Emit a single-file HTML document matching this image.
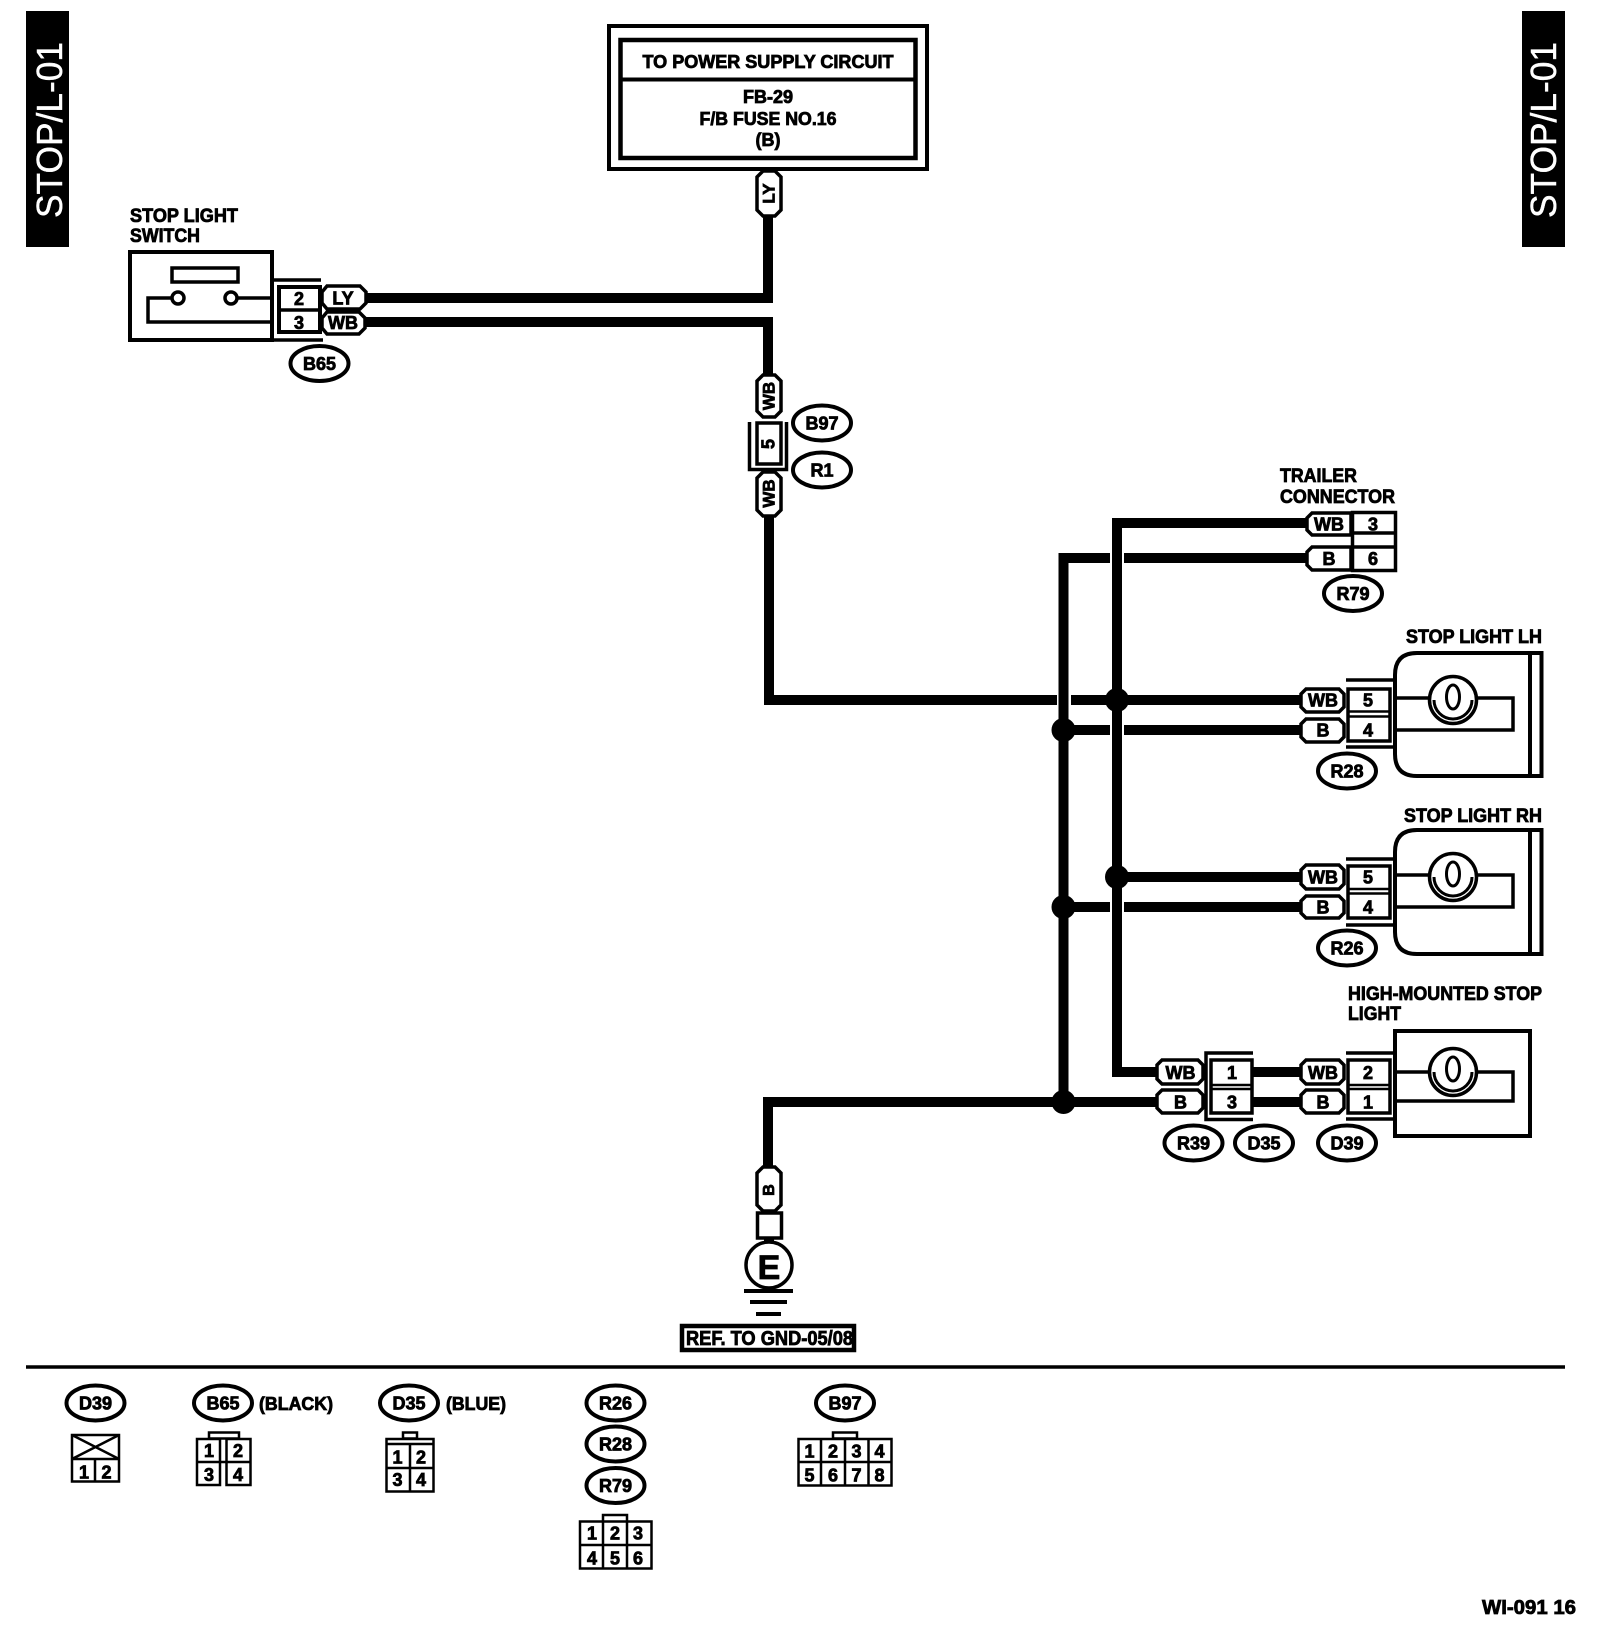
<!DOCTYPE html>
<html><head><meta charset="utf-8"><title>STOP/L-01</title>
<style>
html,body{margin:0;padding:0;background:#fff}
svg{display:block}
text{font-family:"Liberation Sans",Arial,sans-serif;font-weight:bold;font-size:18px;fill:#000;stroke:#000;stroke-width:.8;text-anchor:middle}
.l{text-anchor:start;font-size:19.5px}
.n{font-size:18px}
.bar{font-weight:normal;font-size:36px;fill:#fff;stroke:#fff;stroke-width:.4;text-anchor:start}
.s{fill:none;stroke:#000;stroke-width:3.5}
.w{fill:none;stroke:#000;stroke-width:10}
.t{fill:#fff;stroke:#000;stroke-width:3.5}
.e{fill:#fff;stroke:#000;stroke-width:4}
.c{fill:#fff;stroke:#000;stroke-width:2.5}
.c2{fill:none;stroke:#000;stroke-width:2.5}
</style></head><body>
<svg width="1600" height="1644" viewBox="0 0 1600 1644" xmlns="http://www.w3.org/2000/svg">
<rect width="1600" height="1644" fill="#fff"/>

<!-- side bars -->
<rect x="26" y="11" width="43" height="236" fill="#000"/>
<text class="bar" transform="translate(62,218) rotate(-90)" textLength="176" lengthAdjust="spacingAndGlyphs">STOP/L-01</text>
<rect x="1522" y="11" width="43" height="236" fill="#000"/>
<text class="bar" transform="translate(1556,218) rotate(-90)" textLength="176" lengthAdjust="spacingAndGlyphs">STOP/L-01</text>

<!-- wires -->
<g class="w">
<path class="w" d="M768 216V298H366"/>
<path class="w" d="M366 322H768V374"/>
<path class="w" d="M769 515V700H1057"/>
<path class="w" d="M1071 700H1300"/>
<path class="w" d="M1308 523H1117V1072H1160"/>
<path class="w" d="M1308 558H1124"/>
<path class="w" d="M1110 558H1063.5V1102"/>
<path class="w" d="M1063.5 730H1110"/>
<path class="w" d="M1124 730H1300"/>
<path class="w" d="M1117 877H1300"/>
<path class="w" d="M1063.5 907H1110"/>
<path class="w" d="M1124 907H1300"/>
<path class="w" d="M768 1166V1102H1160"/>
<path class="w" d="M1250 1072H1300"/>
<path class="w" d="M1250 1102H1300"/>
</g>
<circle cx="1117" cy="700" r="12"/>
<circle cx="1063.5" cy="730" r="12"/>
<circle cx="1117" cy="877" r="12"/>
<circle cx="1063.5" cy="907" r="12"/>
<circle cx="1063.5" cy="1102" r="12"/>

<!-- power box -->
<rect x="609" y="26" width="318" height="143" class="s" style="stroke-width:4"/>
<rect x="620.5" y="40" width="295" height="118" class="s" style="stroke-width:4.5"/>
<path d="M620 79.5H916" class="s" style="stroke-width:4"/>
<text x="768" y="68" textLength="251" lengthAdjust="spacingAndGlyphs">TO POWER SUPPLY CIRCUIT</text>
<text x="768" y="103">FB-29</text>
<text x="768" y="125" textLength="137" lengthAdjust="spacingAndGlyphs">F/B FUSE NO.16</text>
<text x="768" y="146">(B)</text>

<!-- vertical tags -->
<polygon class="t" points="763,171 775,171 781,177 781,210 775,216 763,216 757,210 757,177"/>
<text x="768" y="200" transform="rotate(-90 768 193.500)" style="font-size:17px">LY</text>
<polygon class="t" points="763,375 775,375 781,381 781,411 775,417 763,417 757,411 757,381"/>
<text x="768" y="402.500" transform="rotate(-90 768 396)" style="font-size:17px">WB</text>
<rect x="757" y="423" width="24" height="41" class="t"/>
<text x="768" y="450.500" transform="rotate(-90 768 444)">5</text>
<path d="M749.5 422V469.500H786.500V422" class="s"/>
<polygon class="t" points="763,472 775,472 781,478 781,510 775,516 763,516 757,510 757,478"/>
<text x="768" y="500" transform="rotate(-90 768 493.500)" style="font-size:17px">WB</text>
<ellipse cx="822" cy="423" rx="29" ry="17.500" class="e"/><text x="822" y="429.500">B97</text>
<ellipse cx="822" cy="470" rx="29" ry="17.500" class="e"/><text x="822" y="476.500">R1</text>

<!-- stop light switch -->
<text class="l" x="130" y="222" textLength="108" lengthAdjust="spacingAndGlyphs">STOP LIGHT</text>
<text class="l" x="130" y="242" textLength="70" lengthAdjust="spacingAndGlyphs">SWITCH</text>
<rect x="130" y="252" width="142" height="88" class="s" style="stroke-width:4"/>
<rect x="172" y="268" width="66" height="14" class="s"/>
<path d="M172 298H148V322H272M237 298H272" class="s"/>
<circle cx="178" cy="298" r="6" class="t"/><circle cx="231" cy="298" r="6" class="t"/>
<path d="M274 280H321M274 340H323" class="s"/>
<rect x="279" y="287" width="41" height="45" class="t" style="stroke-width:4"/>
<path d="M279 310H320" class="s"/>
<text x="299" y="305">2</text><text x="299" y="329">3</text>
<polygon class="t" points="327,286 360,286 366,292 366,303 360,309 327,309 322,303 322,292"/>
<text x="343" y="304.500">LY</text>
<polygon class="t" points="327,312 359,312 365,318 365,328 359,334 327,334 322,328 322,318"/>
<text x="343" y="329">WB</text>
<ellipse cx="319.500" cy="363.500" rx="29" ry="17.500" class="e"/><text x="319.500" y="370">B65</text>

<!-- trailer -->
<text class="l" x="1280" y="482" textLength="77" lengthAdjust="spacingAndGlyphs">TRAILER</text>
<text class="l" x="1280" y="503" textLength="115" lengthAdjust="spacingAndGlyphs">CONNECTOR</text>
<polygon class="t" points="1312,513 1351,513 1351,535 1312,535 1307,530 1307,518"/>
<text x="1329" y="530.500">WB</text>
<polygon class="t" points="1312,547 1351,547 1351,570 1312,570 1307,565 1307,552"/>
<text x="1329" y="565">B</text>
<rect x="1352.500" y="512.500" width="43" height="58" class="t" style="stroke-width:3.5"/>
<path d="M1352 533H1396M1352 547H1396" class="s"/>
<text x="1373" y="530.500">3</text><text x="1373" y="565">6</text>
<ellipse cx="1353" cy="593.500" rx="29" ry="17.500" class="e"/><text x="1353" y="600">R79</text>

<!-- stop light LH -->
<text class="l" x="1406" y="643" textLength="136" lengthAdjust="spacingAndGlyphs">STOP LIGHT LH</text>
<path d="M1541.500 653H1417Q1395 653 1395 675V754Q1395 776 1417 776H1541.500ZM1530 653V776" class="s" style="stroke-width:4"/>
<path d="M1397 698H1430M1476 698H1513V730H1397" class="s"/>
<circle cx="1453" cy="700" r="23.500" class="t"/>
<ellipse cx="1453" cy="697" rx="6.500" ry="12" class="s" style="stroke-width:3"/>
<path d="M1434 700A19 19 0 0 0 1472 700" class="s" style="stroke-width:3"/>
<path d="M1346 680H1393M1346 747H1393" class="s"/>
<rect x="1348" y="689" width="42" height="52" class="t"/>
<path d="M1348 711.500H1390M1348 716.500H1390" class="s" style="stroke-width:2.500"/>
<text x="1368" y="706.500">5</text><text x="1368" y="736.500">4</text>
<polygon class="t" points="1306,689 1339,689 1344,694 1344,707 1339,712 1306,712 1301,707 1301,694"/>
<text x="1323" y="706.500">WB</text>
<polygon class="t" points="1306,719 1339,719 1344,724 1344,737 1339,742 1306,742 1301,737 1301,724"/>
<text x="1323" y="736.500">B</text>
<ellipse cx="1347" cy="771" rx="29" ry="17.500" class="e"/><text x="1347" y="777.500">R28</text>

<!-- stop light RH -->
<text class="l" x="1404" y="822" textLength="138" lengthAdjust="spacingAndGlyphs">STOP LIGHT RH</text>
<path d="M1541.500 830H1417Q1395 830 1395 852V932Q1395 954 1417 954H1541.500ZM1530 830V954" class="s" style="stroke-width:4"/>
<path d="M1397 875H1430M1476 875H1513V907H1397" class="s"/>
<circle cx="1453" cy="877" r="23.500" class="t"/>
<ellipse cx="1453" cy="874" rx="6.500" ry="12" class="s" style="stroke-width:3"/>
<path d="M1434 877A19 19 0 0 0 1472 877" class="s" style="stroke-width:3"/>
<path d="M1346 859H1393M1346 925H1393" class="s"/>
<rect x="1348" y="866" width="42" height="52" class="t"/>
<path d="M1348 889H1390M1348 893.500H1390" class="s" style="stroke-width:2.500"/>
<text x="1368" y="883.500">5</text><text x="1368" y="913.500">4</text>
<polygon class="t" points="1306,865 1339,865 1344,870 1344,884 1339,889 1306,889 1301,884 1301,870"/>
<text x="1323" y="883.500">WB</text>
<polygon class="t" points="1306,896 1339,896 1344,901 1344,913 1339,918 1306,918 1301,913 1301,901"/>
<text x="1323" y="913.500">B</text>
<ellipse cx="1347" cy="948" rx="29" ry="17.500" class="e"/><text x="1347" y="954.500">R26</text>

<!-- high mounted -->
<text class="l" x="1348" y="1000" textLength="194" lengthAdjust="spacingAndGlyphs">HIGH-MOUNTED STOP</text>
<text class="l" x="1348" y="1020" textLength="53" lengthAdjust="spacingAndGlyphs">LIGHT</text>
<rect x="1395" y="1031" width="135" height="105" class="s" style="stroke-width:4"/>
<path d="M1397 1072H1430M1476 1072H1513V1101H1397" class="s"/>
<circle cx="1453" cy="1072" r="23.500" class="t"/>
<ellipse cx="1453" cy="1069" rx="6.500" ry="12" class="s" style="stroke-width:3"/>
<path d="M1434 1072A19 19 0 0 0 1472 1072" class="s" style="stroke-width:3"/>
<path d="M1346 1053H1393M1346 1119H1393" class="s"/>
<rect x="1348" y="1060" width="42" height="53" class="t"/>
<path d="M1348 1085H1390M1348 1089H1390" class="s" style="stroke-width:2.500"/>
<text x="1368" y="1079">2</text><text x="1368" y="1108.500">1</text>
<polygon class="t" points="1306,1060 1339,1060 1344,1065 1344,1079 1339,1084 1306,1084 1301,1079 1301,1065"/>
<text x="1323" y="1079">WB</text>
<polygon class="t" points="1306,1090 1339,1090 1344,1095 1344,1108 1339,1113 1306,1113 1301,1108 1301,1095"/>
<text x="1323" y="1108.500">B</text>

<!-- D35 / R39 inline -->
<path d="M1253 1053H1206V1119.500H1253" class="s"/>
<rect x="1211" y="1060" width="41" height="53" class="t"/>
<path d="M1211 1085H1252M1211 1089H1252" class="s" style="stroke-width:2.500"/>
<text x="1232" y="1079">1</text><text x="1232" y="1108.500">3</text>
<polygon class="t" points="1162,1060 1198,1060 1203,1065 1203,1079 1198,1084 1162,1084 1157,1079 1157,1065"/>
<text x="1180.500" y="1079">WB</text>
<polygon class="t" points="1162,1090 1198,1090 1203,1095 1203,1108 1198,1113 1162,1113 1157,1108 1157,1095"/>
<text x="1180.500" y="1108.500">B</text>
<ellipse cx="1193.500" cy="1143" rx="29" ry="17.500" class="e"/><text x="1193.500" y="1149.500">R39</text>
<ellipse cx="1264" cy="1143" rx="29" ry="17.500" class="e"/><text x="1264" y="1149.500">D35</text>
<ellipse cx="1347" cy="1143" rx="29" ry="17.500" class="e"/><text x="1347" y="1149.500">D39</text>

<!-- ground -->
<polygon class="t" points="763,1167 775,1167 781,1173 781,1205 775,1211 763,1211 757,1205 757,1173"/>
<text x="768" y="1196" transform="rotate(-90 768 1190)" style="font-size:16px">B</text>
<rect x="757.500" y="1213" width="24" height="25" class="t" style="stroke-width:3.500"/>
<path d="M769 1238V1242" class="s" style="stroke-width:10"/>
<circle cx="769" cy="1265" r="23" class="t"/>
<text x="769" y="1279" style="font-size:34px">E</text>
<path d="M744 1291H793" class="s" style="stroke-width:4"/>
<path d="M750 1302H787" class="s" style="stroke-width:4"/>
<path d="M756 1314H781" class="s" style="stroke-width:4"/>
<rect x="682" y="1326" width="172" height="24" class="t" style="stroke-width:4.500"/>
<text class="l" x="686" y="1345" textLength="167" lengthAdjust="spacingAndGlyphs" style="font-size:20px">REF. TO GND-05/08</text>

<path d="M26 1367H1565" class="s"/>

<!-- legend D39 -->
<ellipse cx="95.500" cy="1403" rx="29" ry="17.500" class="e"/><text x="95.500" y="1409.500">D39</text>
<rect x="72" y="1435" width="47" height="46.500" class="c"/>
<path d="M72 1459H119M72 1435L119 1459M119 1435L72 1459M95 1459V1481" class="c2"/>
<text x="84" y="1478.500" class="n">1</text><text x="106.500" y="1478.500" class="n">2</text>

<!-- legend B65 -->
<ellipse cx="223" cy="1403" rx="29" ry="17.500" class="e"/><text x="223" y="1409.500">B65</text>
<text class="l" x="259" y="1410" textLength="74" lengthAdjust="spacingAndGlyphs" style="font-size:18px">(BLACK)</text>
<rect x="209" y="1432.500" width="30" height="6" class="c"/>
<rect x="197" y="1439" width="23" height="46" class="c"/>
<rect x="226.500" y="1439" width="24" height="46" class="c"/>
<path d="M197 1462H250.500" class="c2"/>
<text x="209" y="1457" class="n">1</text><text x="238" y="1457" class="n">2</text>
<text x="209" y="1481" class="n">3</text><text x="238" y="1481" class="n">4</text>

<!-- legend D35 -->
<ellipse cx="409" cy="1403" rx="29" ry="17.500" class="e"/><text x="409" y="1409.500">D35</text>
<text class="l" x="446" y="1410" textLength="60" lengthAdjust="spacingAndGlyphs" style="font-size:18px">(BLUE)</text>
<rect x="403" y="1432.500" width="14" height="6" class="c"/>
<rect x="386.500" y="1439" width="47" height="52.500" class="c"/>
<path d="M386.500 1444H433.500M386.500 1468H433.500M410 1444V1491" class="c2"/>
<text x="397.500" y="1463.500" class="n">1</text><text x="421" y="1463.500" class="n">2</text>
<text x="397.500" y="1486" class="n">3</text><text x="421" y="1486" class="n">4</text>

<!-- legend R26 R28 R79 -->
<ellipse cx="615.500" cy="1403" rx="29" ry="17.500" class="e"/><text x="615.500" y="1409.500">R26</text>
<ellipse cx="615.500" cy="1444" rx="29" ry="17.500" class="e"/><text x="615.500" y="1450.500">R28</text>
<ellipse cx="615.500" cy="1485.500" rx="29" ry="17.500" class="e"/><text x="615.500" y="1492">R79</text>
<rect x="603" y="1515" width="24" height="7" class="c"/>
<rect x="580" y="1521.500" width="71.500" height="47" class="c"/>
<path d="M580 1545H651.500M603 1521.500V1568.500M627 1521.500V1568.500" class="c2"/>
<text x="592" y="1539.500" class="n">1</text><text x="615" y="1539.500" class="n">2</text><text x="638" y="1539.500" class="n">3</text>
<text x="592" y="1564.500" class="n">4</text><text x="615" y="1564.500" class="n">5</text><text x="638" y="1564.500" class="n">6</text>

<!-- legend B97 -->
<ellipse cx="845" cy="1403" rx="29" ry="17.500" class="e"/><text x="845" y="1409.500">B97</text>
<rect x="833" y="1432.500" width="24" height="6" class="c"/>
<rect x="798.500" y="1439" width="93" height="46.500" class="c"/>
<path d="M798.500 1462H891.500M821 1439V1485.500M845 1439V1485.500M868.500 1439V1485.500" class="c2"/>
<text x="809.500" y="1457.500" class="n">1</text><text x="833" y="1457.500" class="n">2</text><text x="856.500" y="1457.500" class="n">3</text><text x="879.500" y="1457.500" class="n">4</text>
<text x="809.500" y="1481.500" class="n">5</text><text x="833" y="1481.500" class="n">6</text><text x="856.500" y="1481.500" class="n">7</text><text x="879.500" y="1481.500" class="n">8</text>

<text class="l" x="1482" y="1614" textLength="94" lengthAdjust="spacingAndGlyphs" style="font-size:20px">WI-091 16</text>
</svg>
</body></html>
